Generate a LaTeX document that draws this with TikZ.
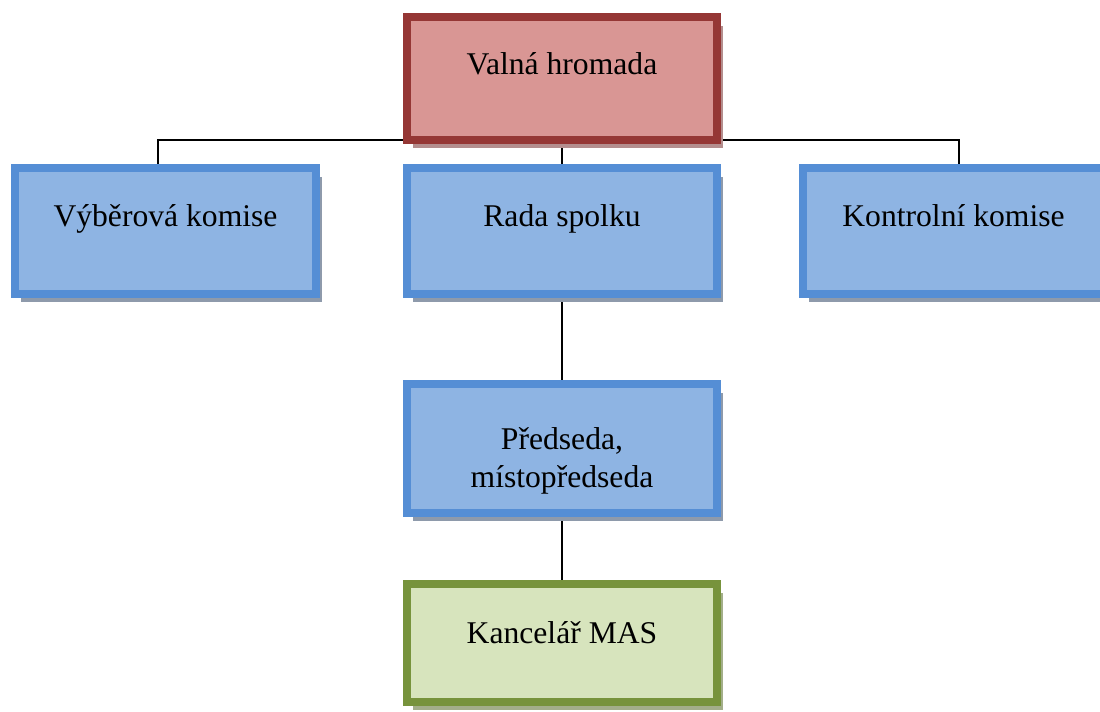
\documentclass[tikz,border=0pt]{standalone}
\usepackage{fontspec}
\setmainfont{Liberation Serif}
\usepackage{tikz}
\usetikzlibrary{positioning,shadows,backgrounds,calc}

\definecolor{redLine}{HTML}{953735}
\definecolor{redFill}{HTML}{D99694}
\definecolor{redShade}{HTML}{B48E8E}
\definecolor{blueLine}{HTML}{558ED5}
\definecolor{blueFill}{HTML}{8EB4E3}
\definecolor{blueShade}{HTML}{8E9AAB}
\definecolor{greenLine}{HTML}{77933C}
\definecolor{greenFill}{HTML}{D7E4BD}
\definecolor{greenShade}{HTML}{A3AE8A}

\begin{document}
\begin{tikzpicture}[x=0.02cm, y=-0.02cm, font=\fontsize{18}{21.6}\selectfont,
  box/.style={draw, line width=0.16cm, outer sep=0pt, inner sep=0pt, minimum width=6.2cm},
  redbox/.style={box, draw=redLine, fill=redFill,
    drop shadow={shadow xshift=0.12cm, shadow yshift=-0.17cm, fill=redShade, opacity=1}},
  bluebox/.style={box, draw=blueLine, fill=blueFill,
    drop shadow={shadow xshift=0.12cm, shadow yshift=-0.17cm, fill=blueShade, opacity=1}},
  greenbox/.style={box, draw=greenLine, fill=greenFill,
    drop shadow={shadow xshift=0.12cm, shadow yshift=-0.17cm, fill=greenShade, opacity=1}},
  txt/.style={inner sep=0pt, align=center},
  conn/.style={black, line width=0.85pt}]
  \clip (0,0) rectangle (1100,711);
  % ---- boxes
  \node[redbox, minimum height=2.46cm] (vh) at (562,78.5) {};
  \node[bluebox, minimum height=2.52cm, minimum width=6.02cm] (vyber) at (165.5,231) {};
  \node[bluebox, minimum height=2.52cm] (rada) at (562,231) {};
  \node[bluebox, minimum height=2.52cm, minimum width=6.02cm] (kontrol) at (953.5,231) {};
  \node[bluebox, minimum height=2.58cm] (pred) at (562,448.5) {};
  \node[greenbox, minimum height=2.36cm] (kanc) at (562,643) {};
  % ---- texts (set a little above the middle, as in the chart)
  \node[txt, anchor=base] (vhtext) at ([yshift=0.09cm]vh.center) {Valná hromada};
  \node[txt, anchor=base] (vybertext) at ([yshift=0.1cm]vyber.center) {Výběrová komise};
  \node[txt, anchor=base] (radatext) at ([yshift=0.1cm]rada.center) {Rada spolku};
  \node[txt, anchor=base] (kontroltext) at ([yshift=0.1cm]kontrol.center) {Kontrolní komise};
  \node[txt] (predtext) at ([yshift=-0.24cm]pred.center) {Předseda,\\místopředseda};
  \node[txt, anchor=base] (kanctext) at (kanc.center) {Kancelář MAS};
  % ---- connectors
  \begin{scope}[on background layer]
    \draw[conn] ([xshift=-0.15cm]vyber.north) |- (vh.south) -| ([xshift=0.11cm]kontrol.north);
    \draw[conn] (vh.south) -- (rada.north);
    \draw[conn] (rada.south) -- (pred.north);
    \draw[conn] (pred.south) -- (kanc.north);
  \end{scope}
\end{tikzpicture}
\end{document}
